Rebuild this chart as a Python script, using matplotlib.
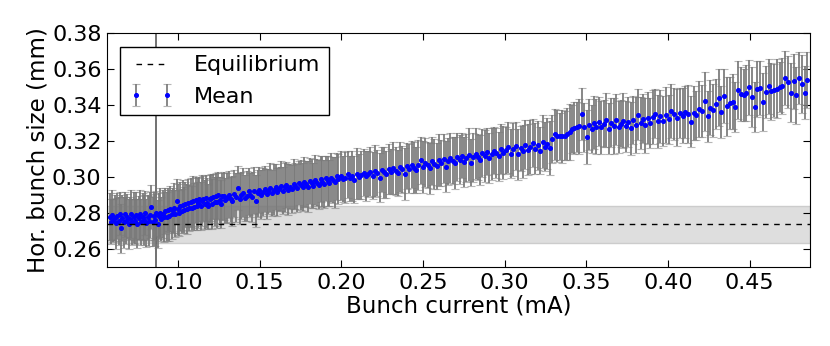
import matplotlib
matplotlib.use("Agg")
import matplotlib.pyplot as plt

# equilibrium size and its spread (mm), threshold current (mA)
eq_size = 0.2737
eq_sigma = 0.0103
i_threshold = 0.0865

# bunch current (mA)
xa = [0.0580, 0.0588, 0.0596, 0.0604, 0.0611, 0.0619, 0.0627, 0.0635, 0.0642, 0.0650,
      0.0658, 0.0666, 0.0673, 0.0681, 0.0689, 0.0697, 0.0704, 0.0712, 0.0720, 0.0728,
      0.0735, 0.0743, 0.0751, 0.0759, 0.0766, 0.0774, 0.0782, 0.0790, 0.0797, 0.0805,
      0.0813, 0.0821, 0.0828, 0.0836, 0.0844, 0.0852, 0.0859, 0.0867, 0.0875, 0.0883,
      0.0890, 0.0898, 0.0906, 0.0914, 0.0921, 0.0929, 0.0937, 0.0945, 0.0952, 0.0960,
      0.0968, 0.0976, 0.0983, 0.0991, 0.0999, 0.1007, 0.1014, 0.1022, 0.1030, 0.1038,
      0.1045, 0.1053, 0.1061, 0.1069, 0.1076, 0.1084, 0.1092, 0.1100, 0.1107, 0.1115,
      0.1123, 0.1131, 0.1138, 0.1146, 0.1154, 0.1162, 0.1169, 0.1177, 0.1185, 0.1193,
      0.1200, 0.1208, 0.1216, 0.1224, 0.1231, 0.1239, 0.1247, 0.1255, 0.1262, 0.1270]
xb = [0.1278, 0.1289, 0.1300, 0.1311, 0.1322, 0.1333, 0.1344, 0.1355, 0.1366, 0.1377,
      0.1388, 0.1399, 0.1410, 0.1421, 0.1432, 0.1443, 0.1454, 0.1465, 0.1476, 0.1487,
      0.1498, 0.1509, 0.1520, 0.1531, 0.1542, 0.1553, 0.1564, 0.1575, 0.1586, 0.1597,
      0.1608, 0.1619, 0.1630, 0.1641, 0.1652, 0.1663, 0.1674, 0.1685, 0.1696, 0.1707,
      0.1718, 0.1729, 0.1740, 0.1751, 0.1762, 0.1773, 0.1784, 0.1795, 0.1806, 0.1817,
      0.1828, 0.1839, 0.1850, 0.1861, 0.1872, 0.1883, 0.1894, 0.1905, 0.1916, 0.1927,
      0.1938, 0.1949, 0.1960, 0.1971, 0.1982]
xc = [0.1996, 0.2010, 0.2024, 0.2038, 0.2052, 0.2066, 0.2080, 0.2094, 0.2108, 0.2122,
      0.2136, 0.2150, 0.2164, 0.2178, 0.2192, 0.2206, 0.2220, 0.2234, 0.2248, 0.2262,
      0.2276, 0.2290, 0.2304, 0.2318, 0.2332, 0.2346, 0.2360, 0.2374, 0.2388, 0.2402,
      0.2416, 0.2430, 0.2444, 0.2458, 0.2472, 0.2486, 0.2500, 0.2514, 0.2528, 0.2542,
      0.2556, 0.2570, 0.2584, 0.2598, 0.2612, 0.2626, 0.2640, 0.2654, 0.2668, 0.2682,
      0.2696, 0.2710, 0.2724, 0.2738, 0.2752, 0.2766, 0.2780, 0.2794, 0.2808, 0.2822,
      0.2836, 0.2850, 0.2864, 0.2878, 0.2892, 0.2906, 0.2920, 0.2934, 0.2948, 0.2962]
xd = [0.2977, 0.2992, 0.3007, 0.3022, 0.3037, 0.3052, 0.3067, 0.3082, 0.3097, 0.3112,
      0.3127, 0.3142, 0.3157, 0.3172, 0.3187, 0.3202, 0.3217, 0.3232, 0.3247, 0.3262,
      0.3277, 0.3292, 0.3307, 0.3322, 0.3337, 0.3352, 0.3367, 0.3382, 0.3397, 0.3412,
      0.3427, 0.3442, 0.3457, 0.3472, 0.3487, 0.3502, 0.3517, 0.3532, 0.3547, 0.3562,
      0.3577, 0.3592, 0.3607, 0.3622, 0.3637, 0.3652, 0.3667, 0.3682, 0.3697, 0.3712,
      0.3727, 0.3742, 0.3757, 0.3772, 0.3787, 0.3802, 0.3817, 0.3832, 0.3847, 0.3862,
      0.3877, 0.3892, 0.3907, 0.3922, 0.3937]
xe = [0.3953, 0.3970, 0.3987, 0.4004, 0.4021, 0.4038, 0.4055, 0.4072, 0.4089, 0.4106,
      0.4123, 0.4140, 0.4157, 0.4174, 0.4191, 0.4208, 0.4225, 0.4242, 0.4259, 0.4276,
      0.4293, 0.4310, 0.4327, 0.4344, 0.4361, 0.4378, 0.4395, 0.4412, 0.4429, 0.4446,
      0.4463, 0.4480, 0.4497, 0.4514, 0.4531, 0.4548, 0.4565, 0.4582, 0.4599, 0.4616,
      0.4633, 0.4650, 0.4667, 0.4684, 0.4701, 0.4718, 0.4735, 0.4752, 0.4769, 0.4786,
      0.4803, 0.4820, 0.4837, 0.4854]

# mean horizontal bunch size (mm)
ya = [0.2781, 0.2752, 0.2790, 0.2760, 0.2774, 0.2743, 0.2786, 0.2756, 0.2797, 0.2716,
      0.2771, 0.2748, 0.2793, 0.2759, 0.2780, 0.2739, 0.2768, 0.2795, 0.2750, 0.2777,
      0.2755, 0.2789, 0.2742, 0.2772, 0.2794, 0.2751, 0.2779, 0.2762, 0.2801, 0.2747,
      0.2776, 0.2758, 0.2790, 0.2834, 0.2753, 0.2784, 0.2763, 0.2798, 0.2741, 0.2786,
      0.2802, 0.2768, 0.2795, 0.2776, 0.2810, 0.2781, 0.2819, 0.2785, 0.2824, 0.2793,
      0.2815, 0.2827, 0.2796, 0.2866, 0.2821, 0.2802, 0.2838, 0.2812, 0.2845, 0.2817,
      0.2849, 0.2822, 0.2855, 0.2826, 0.2861, 0.2831, 0.2867, 0.2835, 0.2873, 0.2839,
      0.2858, 0.2876, 0.2840, 0.2869, 0.2881, 0.2848, 0.2885, 0.2857, 0.2838, 0.2879,
      0.2886, 0.2853, 0.2892, 0.2864, 0.2895, 0.2861, 0.2899, 0.2872, 0.2851, 0.2893]
yb = [0.2896, 0.2871, 0.2883, 0.2902, 0.2877, 0.2869, 0.2908, 0.2889, 0.2938, 0.2880,
      0.2899, 0.2914, 0.2886, 0.2893, 0.2921, 0.2900, 0.2889, 0.2925, 0.2868, 0.2911,
      0.2929, 0.2903, 0.2917, 0.2936, 0.2908, 0.2921, 0.2941, 0.2912, 0.2930, 0.2946,
      0.2919, 0.2935, 0.2952, 0.2925, 0.2943, 0.2958, 0.2931, 0.2947, 0.2936, 0.2963,
      0.2951, 0.2940, 0.2968, 0.2957, 0.2945, 0.2973, 0.2960, 0.2948, 0.2978, 0.2966,
      0.2953, 0.2983, 0.2970, 0.2958, 0.2989, 0.2975, 0.2962, 0.2993, 0.2980, 0.2968,
      0.2998, 0.2984, 0.2972, 0.3004, 0.2990]
yc = [0.3008, 0.2989, 0.2997, 0.3015, 0.2994, 0.3006, 0.2986, 0.3020, 0.3003, 0.3011,
      0.3025, 0.3005, 0.3017, 0.3030, 0.3009, 0.3036, 0.3022, 0.2998, 0.3041, 0.3026,
      0.3015, 0.3045, 0.3031, 0.3052, 0.3036, 0.3024, 0.3057, 0.3043, 0.3018, 0.3061,
      0.3047, 0.3070, 0.3053, 0.3039, 0.3066, 0.3094, 0.3058, 0.3081, 0.3066, 0.3050,
      0.3088, 0.3073, 0.3062, 0.3095, 0.3079, 0.3102, 0.3058, 0.3087, 0.3108, 0.3092,
      0.3079, 0.3113, 0.3098, 0.3119, 0.3085, 0.3105, 0.3124, 0.3080, 0.3111, 0.3129,
      0.3114, 0.3098, 0.3134, 0.3119, 0.3141, 0.3107, 0.3128, 0.3148, 0.3133, 0.3117]
yd = [0.3158, 0.3137, 0.3149, 0.3165, 0.3131, 0.3154, 0.3172, 0.3126, 0.3160, 0.3143,
      0.3181, 0.3152, 0.3168, 0.3191, 0.3159, 0.3176, 0.3147, 0.3196, 0.3170, 0.3185,
      0.3162, 0.3214, 0.3238, 0.3229, 0.3226, 0.3227, 0.3231, 0.3240, 0.3252, 0.3266,
      0.3274, 0.3279, 0.3283, 0.3351, 0.3277, 0.3222, 0.3291, 0.3268, 0.3302, 0.3281,
      0.3309, 0.3276, 0.3297, 0.3318, 0.3270, 0.3303, 0.3285, 0.3320, 0.3279, 0.3298,
      0.3314, 0.3283, 0.3309, 0.3271, 0.3318, 0.3292, 0.3347, 0.3301, 0.3325, 0.3288,
      0.3327, 0.3302, 0.3333, 0.3352, 0.3310]
ye = [0.3338, 0.3312, 0.3345, 0.3321, 0.3366, 0.3349, 0.3331, 0.3358, 0.3342, 0.3361,
      0.3350, 0.3309, 0.3356, 0.3343, 0.3378, 0.3369, 0.3421, 0.3338, 0.3385, 0.3372,
      0.3406, 0.3441, 0.3362, 0.3452, 0.3394, 0.3412, 0.3419, 0.3391, 0.3483, 0.3461,
      0.3456, 0.3468, 0.3500, 0.3444, 0.3390, 0.3489, 0.3495, 0.3417, 0.3472, 0.3506,
      0.3478, 0.3484, 0.3492, 0.3501, 0.3505, 0.3550, 0.3528, 0.3470, 0.3533, 0.3456,
      0.3550, 0.3517, 0.3470, 0.3539]

# standard deviation of the size (mm)
ea = [0.0132, 0.0125, 0.0138, 0.0121, 0.0129, 0.0141, 0.0127, 0.0134, 0.0119, 0.0136,
      0.0128, 0.0140, 0.0123, 0.0131, 0.0126, 0.0137, 0.0120, 0.0133, 0.0129, 0.0142,
      0.0124, 0.0130, 0.0138, 0.0122, 0.0135, 0.0127, 0.0131, 0.0139, 0.0121, 0.0133,
      0.0126, 0.0140, 0.0129, 0.0124, 0.0136, 0.0131, 0.0143, 0.0125, 0.0134, 0.0128,
      0.0137, 0.0122, 0.0132, 0.0139, 0.0127, 0.0134, 0.0120, 0.0141, 0.0129, 0.0135,
      0.0124, 0.0138, 0.0131, 0.0126, 0.0142, 0.0129, 0.0135, 0.0121, 0.0137, 0.0130,
      0.0125, 0.0139, 0.0133, 0.0128, 0.0136, 0.0122, 0.0140, 0.0131, 0.0127, 0.0134,
      0.0138, 0.0123, 0.0132, 0.0141, 0.0126, 0.0135, 0.0129, 0.0137, 0.0124, 0.0133,
      0.0130, 0.0139, 0.0125, 0.0136, 0.0128, 0.0142, 0.0131, 0.0127, 0.0135, 0.0129]
eb = [0.0134, 0.0127, 0.0140, 0.0131, 0.0125, 0.0138, 0.0129, 0.0136, 0.0122, 0.0141,
      0.0130, 0.0135, 0.0127, 0.0139, 0.0132, 0.0124, 0.0137, 0.0129, 0.0143, 0.0131,
      0.0126, 0.0138, 0.0133, 0.0128, 0.0140, 0.0125, 0.0136, 0.0130, 0.0142, 0.0127,
      0.0134, 0.0121, 0.0139, 0.0131, 0.0136, 0.0128, 0.0141, 0.0126, 0.0133, 0.0138,
      0.0129, 0.0135, 0.0124, 0.0140, 0.0132, 0.0137, 0.0127, 0.0143, 0.0130, 0.0135,
      0.0125, 0.0139, 0.0131, 0.0136, 0.0128, 0.0142, 0.0133, 0.0126, 0.0138, 0.0130,
      0.0135, 0.0129, 0.0141, 0.0132, 0.0137]
ec = [0.0136, 0.0128, 0.0141, 0.0132, 0.0125, 0.0139, 0.0130, 0.0144, 0.0127, 0.0135,
      0.0131, 0.0140, 0.0126, 0.0137, 0.0133, 0.0145, 0.0129, 0.0136, 0.0124, 0.0142,
      0.0131, 0.0138, 0.0127, 0.0143, 0.0134, 0.0129, 0.0140, 0.0132, 0.0146, 0.0128,
      0.0137, 0.0133, 0.0141, 0.0126, 0.0139, 0.0131, 0.0144, 0.0135, 0.0128, 0.0142,
      0.0133, 0.0138, 0.0130, 0.0145, 0.0127, 0.0136, 0.0141, 0.0132, 0.0139, 0.0129,
      0.0143, 0.0134, 0.0138, 0.0126, 0.0140, 0.0133, 0.0147, 0.0130, 0.0137, 0.0142,
      0.0128, 0.0139, 0.0135, 0.0144, 0.0131, 0.0138, 0.0146, 0.0133, 0.0140, 0.0136]
ed = [0.0138, 0.0145, 0.0131, 0.0142, 0.0136, 0.0149, 0.0133, 0.0140, 0.0127, 0.0146,
      0.0135, 0.0141, 0.0150, 0.0132, 0.0144, 0.0138, 0.0129, 0.0147, 0.0136, 0.0142,
      0.0151, 0.0134, 0.0140, 0.0145, 0.0131, 0.0148, 0.0137, 0.0143, 0.0155, 0.0133,
      0.0146, 0.0139, 0.0152, 0.0144, 0.0136, 0.0149, 0.0141, 0.0134, 0.0147, 0.0153,
      0.0138, 0.0145, 0.0131, 0.0150, 0.0142, 0.0137, 0.0154, 0.0140, 0.0146, 0.0133,
      0.0151, 0.0143, 0.0139, 0.0148, 0.0135, 0.0156, 0.0141, 0.0147, 0.0137, 0.0152,
      0.0144, 0.0139, 0.0150, 0.0136, 0.0148]
ee = [0.0148, 0.0141, 0.0155, 0.0137, 0.0150, 0.0144, 0.0158, 0.0139, 0.0152, 0.0146,
      0.0160, 0.0142, 0.0149, 0.0135, 0.0156, 0.0145, 0.0162, 0.0140, 0.0153, 0.0147,
      0.0139, 0.0158, 0.0143, 0.0151, 0.0164, 0.0146, 0.0154, 0.0138, 0.0160, 0.0149,
      0.0143, 0.0157, 0.0152, 0.0166, 0.0141, 0.0155, 0.0148, 0.0161, 0.0144, 0.0153,
      0.0159, 0.0147, 0.0163, 0.0140, 0.0156, 0.0150, 0.0145, 0.0165, 0.0152, 0.0158,
      0.0143, 0.0161, 0.0149, 0.0155]

current = xa + xb + xc + xd + xe
size = ya + yb + yc + yd + ye
size_err = ea + eb + ec + ed + ee

xticks = [0.10, 0.15, 0.20, 0.25, 0.30, 0.35, 0.40, 0.45]
yticks = [0.26, 0.28, 0.30, 0.32, 0.34, 0.36, 0.38]

plt.rcParams['font.family'] = 'DejaVu Sans'
fig = plt.figure(figsize=(8.3, 3.46), dpi=100)
ax = fig.add_axes([0.129, 0.228, 0.847, 0.676])

ax.axhspan(eq_size - eq_sigma, eq_size + eq_sigma, facecolor='0.87',
           edgecolor='0.80', lw=1, zorder=0)
ax.axvline(i_threshold, color='0.35', lw=1.2, zorder=1)

eb_plot = ax.errorbar(current, size, yerr=size_err, fmt='o', color='blue',
                      ms=2.8, mew=0.8, mec='blue', ecolor='#7a7a7a',
                      elinewidth=1.4, capsize=3, capthick=1, zorder=2,
                      label='Mean')
for c in eb_plot[1]:
    c.set_alpha(0.55)
for c in eb_plot[2]:
    c.set_alpha(0.9)

ax.axhline(eq_size, color='black', ls='--', lw=1, dashes=(4, 4), zorder=3,
           label='Equilibrium')

ax.set_xlim(0.0565, 0.487)
ax.set_ylim(0.25, 0.38)
ax.set_xticks(xticks)
ax.set_yticks(yticks)
ax.set_xticklabels(['%.2f' % t for t in xticks])
ax.set_yticklabels(['%.2f' % t for t in yticks])
ax.tick_params(direction='in', top=True, right=True, length=5, labelsize=16,
               pad=4)
ax.set_xlabel('Bunch current (mA)', fontsize=16.5, labelpad=1)
ax.set_ylabel('Hor. bunch size (mm)', fontsize=16.5, labelpad=2)

handles, labels = ax.get_legend_handles_labels()
order = [labels.index('Equilibrium'), labels.index('Mean')]
leg = ax.legend([handles[i] for i in order], [labels[i] for i in order],
                loc='upper left', numpoints=2, fontsize=16, fancybox=False,
                framealpha=1, edgecolor='black', borderpad=0.4,
                handletextpad=0.9, borderaxespad=0.6)
leg.get_frame().set_linewidth(1)

fig.savefig('out.png', dpi=100)
